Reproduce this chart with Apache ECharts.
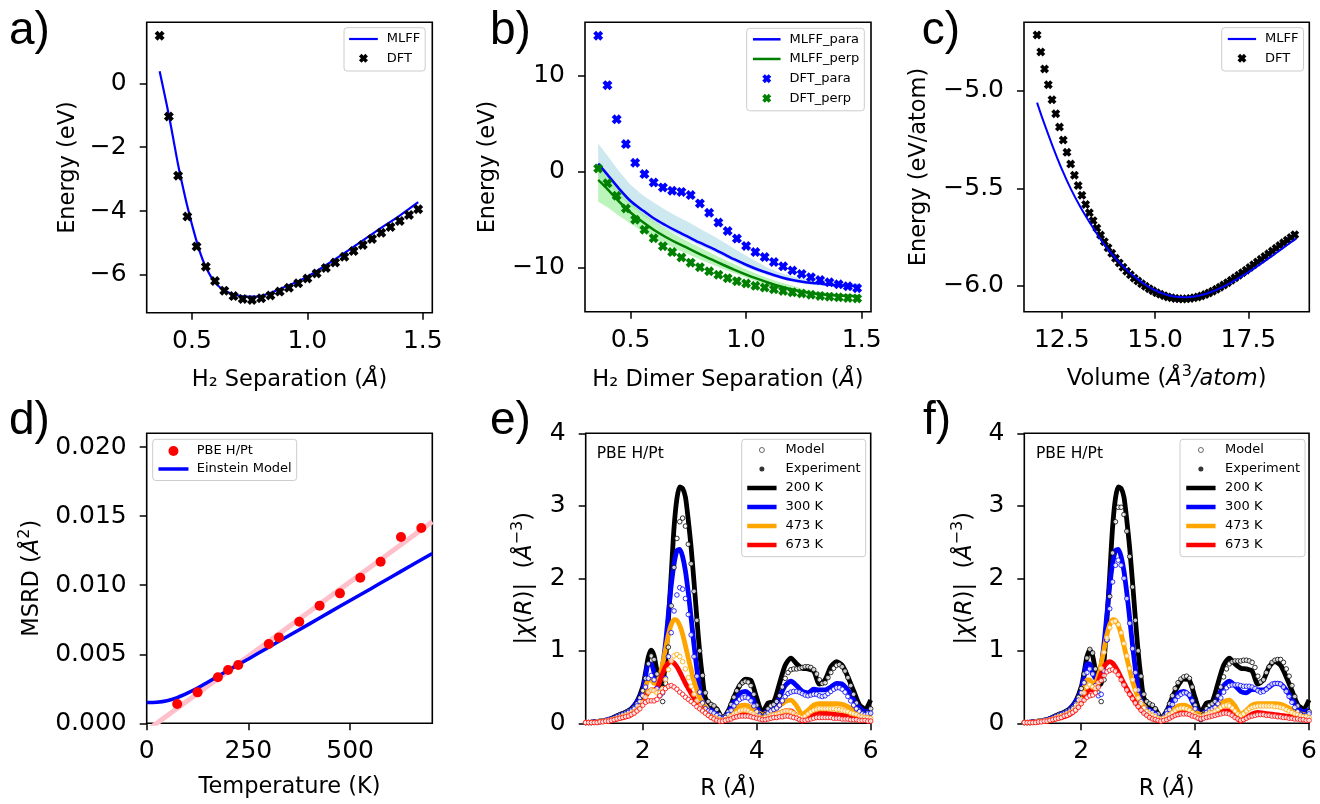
<!DOCTYPE html>
<html>
<head>
<meta charset="utf-8">
<script src="https://cdn.jsdelivr.net/npm/echarts@6/dist/echarts.min.js"></script>
<style>
  html, body { margin: 0; padding: 0; background: #fff; }
  #chart { width: 1320px; height: 804px; }
</style>
</head>
<body>
<div id="chart"></div>
<script>
// ---------- (a) H2 binding curve ----------
const sepR = [0.36,0.40,0.44,0.48,0.52,0.56,0.60,0.64,0.68,0.72,0.76,0.80,0.84,0.88,0.92,0.96,1.00,1.04,1.08,1.12,1.16,1.20,1.24,1.28,1.32,1.36,1.40,1.44,1.48];
const aDft = [1.49,-1.04,-2.89,-4.17,-5.11,-5.74,-6.19,-6.49,-6.66,-6.75,-6.78,-6.73,-6.64,-6.52,-6.40,-6.26,-6.11,-5.95,-5.78,-5.61,-5.43,-5.25,-5.06,-4.87,-4.68,-4.50,-4.31,-4.12,-3.94];
const aMlR = [0.36,0.38,0.40,0.42,0.44,0.46,0.48,0.50,0.53,0.56,0.60,0.64,0.68,0.72,0.77,0.82,0.87,0.93,1.00,1.10,1.20,1.30,1.40,1.48];
const aMl  = [0.38,-0.3,-1.0,-1.77,-2.55,-3.22,-3.85,-4.42,-5.18,-5.75,-6.24,-6.48,-6.60,-6.67,-6.68,-6.61,-6.47,-6.29,-6.05,-5.6,-5.12,-4.62,-4.14,-3.72];

// ---------- (b) H2 dimer, parallel / perpendicular ----------
const bDftPara = [14.2,9.04,5.48,2.89,0.94,-0.24,-1.11,-1.63,-1.98,-2.1,-2.43,-3.30,-4.28,-5.3,-6.18,-6.97,-7.74,-8.38,-8.9,-9.42,-9.87,-10.3,-10.66,-11.0,-11.3,-11.53,-11.74,-11.95,-12.14];
const bDftPerp = [0.35,-1.2,-2.5,-3.83,-5.0,-6.05,-6.93,-7.76,-8.38,-8.94,-9.48,-9.95,-10.38,-10.75,-11.1,-11.41,-11.65,-11.9,-12.08,-12.26,-12.43,-12.58,-12.7,-12.83,-12.95,-13.03,-13.1,-13.16,-13.22];
const bMlR = [0.36,0.40,0.45,0.50,0.55,0.60,0.65,0.70,0.75,0.80,0.85,0.90,0.95,1.00,1.05,1.10,1.15,1.20,1.25,1.30,1.35,1.40,1.45,1.49];
const bMlPara = [0.85,-0.3,-1.75,-3.05,-3.98,-4.85,-5.55,-6.2,-6.8,-7.4,-7.95,-8.55,-9.15,-9.7,-10.2,-10.62,-11.0,-11.3,-11.5,-11.63,-11.75,-11.84,-11.9,-11.93];
const bMlPerp = [-0.85,-1.8,-3.1,-4.25,-5.2,-6.05,-6.78,-7.42,-8.0,-8.6,-9.15,-9.7,-10.23,-10.73,-11.18,-11.6,-11.97,-12.28,-12.55,-12.74,-12.85,-12.92,-12.96,-12.98];
const bParaHi = [2.96,1.7,0.05,-1.35,-2.4,-3.2,-3.95,-4.65,-5.25,-5.95,-6.6,-7.3,-8.05,-8.75,-9.45,-10.1,-10.55,-10.9,-11.15,-11.32,-11.45,-11.55,-11.6,-11.63];
const bParaLo = [-0.6,-1.3,-2.5,-3.6,-4.5,-5.3,-5.95,-6.55,-7.12,-7.7,-8.25,-8.85,-9.45,-10.0,-10.45,-10.85,-11.2,-11.5,-11.7,-11.83,-11.95,-12.03,-12.08,-12.1];
const bPerpHi = [0.7,-0.5,-2.0,-3.2,-4.25,-5.15,-5.95,-6.65,-7.3,-7.9,-8.5,-9.1,-9.65,-10.2,-10.7,-11.15,-11.55,-11.9,-12.25,-12.5,-12.65,-12.75,-12.8,-12.83];
const bPerpLo = [-3.13,-3.7,-4.6,-5.4,-6.2,-6.9,-7.5,-8.1,-8.6,-9.15,-9.65,-10.15,-10.6,-11.05,-11.5,-11.9,-12.25,-12.55,-12.8,-12.95,-13.05,-13.1,-13.12,-13.14];

// ---------- (c) Pt equation of state ----------
const cDftV = [11.84,11.94,12.04,12.14,12.24,12.34,12.44,12.54,12.64,12.74,12.84,12.94,13.04,13.14,13.24,13.34,13.44,13.54,13.64,13.74,13.84,13.94,14.04,14.14,14.24,14.34,14.44,14.54,14.64,14.74,14.84,14.94,15.04,15.14,15.24,15.34,15.44,15.54,15.64,15.74,15.84,15.94,16.04,16.14,16.24,16.34,16.44,16.54,16.64,16.74,16.84,16.94,17.04,17.14,17.24,17.34,17.44,17.54,17.64,17.74,17.84,17.94,18.04,18.14,18.24,18.34,18.44,18.54,18.64,18.74];
const cDftE = [-4.713,-4.80,-4.887,-4.968,-5.045,-5.117,-5.185,-5.252,-5.315,-5.375,-5.432,-5.485,-5.535,-5.582,-5.625,-5.665,-5.703,-5.739,-5.773,-5.804,-5.832,-5.858,-5.882,-5.904,-5.925,-5.943,-5.960,-5.975,-5.989,-6.002,-6.014,-6.025,-6.035,-6.043,-6.050,-6.056,-6.061,-6.064,-6.066,-6.067,-6.066,-6.064,-6.061,-6.057,-6.051,-6.044,-6.036,-6.027,-6.017,-6.006,-5.995,-5.983,-5.971,-5.958,-5.945,-5.932,-5.919,-5.905,-5.891,-5.877,-5.863,-5.849,-5.835,-5.821,-5.807,-5.793,-5.779,-5.765,-5.751,-5.737];
const cMlV = [11.84,12.0,12.25,12.5,12.75,13.0,13.25,13.5,13.75,14.0,14.25,14.5,14.75,15.0,15.25,15.5,15.75,16.0,16.25,16.5,16.75,17.0,17.25,17.5,17.75,18.0,18.25,18.5,18.78];
const cMlE = [-5.06,-5.15,-5.28,-5.40,-5.505,-5.595,-5.675,-5.75,-5.815,-5.87,-5.92,-5.96,-5.995,-6.022,-6.042,-6.054,-6.058,-6.055,-6.046,-6.031,-6.011,-5.987,-5.959,-5.929,-5.897,-5.864,-5.83,-5.795,-5.757];

// ---------- (d) MSRD vs temperature ----------
const dT = [75,125,175,200,225,300,325,375,425,475,525,575,625,675];
const dMsrd = [0.0014,0.00224,0.00333,0.00386,0.00422,0.00574,0.00622,0.00736,0.00852,0.00941,0.01054,0.0117,0.01349,0.01414];
const dFitT = [0, 702];
const dFitY = [-0.00053, 0.01459];
const dEinT = [0,25,50,75,100,125,150,175,200,223,250,300,350,400,450,500,550,600,650,702];
const dEinY = [0.0015,0.00152,0.00163,0.00186,0.00218,0.00255,0.00298,0.00341,0.00383,0.00422,0.00466,0.00551,0.00636,0.0072,0.00805,0.00889,0.00973,0.01058,0.01142,0.0123];

// ---------- (e, f) |chi(R)| ----------
const expR = [1.0,1.2,1.4,1.6,1.7,1.8,1.9,2.0,2.05,2.1,2.15,2.2,2.25,2.3,2.35,2.4,2.45,2.5,2.55,2.6,2.65,2.7,2.75,2.8,2.85,2.9,2.95,3.0,3.05,3.1,3.2,3.3,3.4,3.5,3.6,3.7,3.8,3.9,4.0,4.1,4.2,4.3,4.4,4.5,4.6,4.7,4.8,4.9,5.0,5.1,5.2,5.3,5.4,5.5,5.6,5.7,5.8,5.9,6.0];
const exp200 = [.01,.02,.05,.12,.15,.2,.3,.5, .7,.92,1.01,.93,.72,.52,.55,.85,1.42,2.05, 2.7,3.1,3.26,3.24,3.12,2.8,2.42,1.95,1.45,.98, .62,.35,.25,.2,.07,.17,.36,.52,.61,.59, .35,.15,.28,.3,.55,.8,.9,.82,.76,.75, .72,.54,.6,.78,.85,.8,.64,.45,.26,.2,.32];
const exp300 = [.01,.02,.05,.12,.15,.2,.3,.45, .65,.82,.82,.7,.62,.64,.8,1.1,1.5,1.9, 2.2,2.38,2.4,2.3,2.1,1.8,1.45,1.08,.75,.47, .3,.22,.18,.14,.07,.15,.3,.41,.44,.38, .22,.12,.18,.22,.36,.52,.58,.52,.44,.42, .47,.46,.46,.5,.55,.54,.46,.33,.22,.16,.18];
const exp473 = [.01,.02,.04,.09,.12,.16,.24,.38, .5,.6,.6,.55,.56,.66,.82,1.02,1.22,1.36, 1.43,1.42,1.35,1.23,1.07,.9,.74,.58,.46,.36, .29,.23,.14,.09,.06,.1,.18,.24,.25,.22, .16,.12,.15,.18,.24,.3,.32,.24,.12,.18, .25,.27,.27,.27,.27,.26,.23,.19,.15,.12,.11];
const exp673 = [.01,.02,.03,.07,.09,.12,.19,.29, .37,.43,.46,.46,.49,.58,.69,.78,.83,.85, .83,.78,.71,.63,.55,.48,.41,.35,.29,.24, .19,.15,.09,.05,.04,.06,.1,.14,.15,.13, .1,.08,.1,.12,.14,.17,.17,.1,.03,.08, .13,.15,.14,.13,.12,.11,.1,.09,.08,.06,.05];

const modelR = [1.00,1.05,1.10,1.15,1.20,1.25,1.30,1.35,1.40,1.45,1.50,1.55,1.60,1.65,1.70,1.75,1.80,1.85,1.90,1.95,
  2.00,2.05,2.10,2.15,2.20,2.25,2.30,2.35,2.40,2.45,2.50,2.55,2.60,2.65,2.70,2.75,2.80,2.85,2.90,2.95,
  3.00,3.05,3.10,3.15,3.20,3.25,3.30,3.35,3.40,3.45,3.50,3.55,3.60,3.65,3.70,3.75,3.80,3.85,3.90,3.95,
  4.00,4.05,4.10,4.15,4.20,4.25,4.30,4.35,4.40,4.45,4.50,4.55,4.60,4.65,4.70,4.75,4.80,4.85,4.90,4.95,
  5.00,5.05,5.10,5.15,5.20,5.25,5.30,5.35,5.40,5.45,5.50,5.55,5.60,5.65,5.70,5.75,5.80,5.85,5.90,5.95,6.00];

// model curves shown in (e)
const eM200 = [.01,.01,.01,.02,.02,.03,.03,.04,.05,.06,.08,.1,.12,.13,.15,.17,.19,.22,.27,.35,
  .45,.62,.82,.93,.88,.68,.4,.3,.55,1.05,1.62,2.15,2.55,2.78,2.83,2.72,2.47,2.2,1.82,1.42,
  1.0,.66,.42,.3,.26,.24,.19,.12,.08,.1,.16,.26,.36,.45,.52,.56,.58,.57,.52,.4,
  .25,.12,.06,.12,.2,.24,.26,.3,.38,.5,.62,.7,.74,.75,.75,.76,.77,.78,.78,.77,
  .74,.68,.6,.55,.56,.63,.7,.76,.8,.81,.78,.72,.63,.52,.4,.28,.18,.13,.12,.15,.2];
const eM300 = [.01,.01,.01,.02,.02,.02,.03,.04,.05,.06,.07,.09,.1,.12,.13,.15,.17,.2,.24,.3,
  .38,.5,.62,.66,.6,.48,.38,.42,.62,.92,1.25,1.55,1.77,1.87,1.85,1.72,1.5,1.22,.92,.65,
  .43,.28,.2,.17,.16,.14,.11,.08,.06,.08,.12,.18,.24,.29,.33,.35,.36,.35,.31,.24,
  .16,.1,.07,.1,.14,.17,.19,.21,.25,.31,.37,.41,.43,.44,.44,.43,.41,.39,.38,.39,
  .4,.4,.38,.37,.38,.41,.44,.47,.49,.49,.47,.43,.37,.31,.25,.2,.16,.13,.12,.13,.14];
const eM473 = [.01,.01,.01,.01,.02,.02,.03,.03,.04,.05,.06,.07,.08,.1,.11,.12,.14,.16,.19,.23,
  .29,.36,.43,.46,.45,.42,.42,.48,.6,.74,.86,.93,.95,.92,.85,.75,.63,.51,.4,.31,
  .24,.18,.14,.11,.09,.08,.06,.05,.04,.05,.07,.1,.13,.15,.17,.18,.18,.17,.15,.13,
  .1,.08,.07,.08,.09,.11,.12,.13,.14,.16,.17,.17,.16,.14,.11,.09,.08,.1,.13,.16,
  .18,.19,.2,.2,.2,.2,.2,.2,.19,.19,.18,.17,.16,.14,.13,.12,.1,.09,.08,.08,.07];
const eM673 = [.01,.01,.01,.01,.01,.02,.02,.03,.03,.04,.05,.06,.07,.08,.09,.1,.12,.14,.17,.2,
  .25,.29,.31,.31,.31,.33,.38,.43,.48,.51,.52,.5,.47,.43,.4,.36,.33,.3,.27,.23,
  .2,.17,.14,.11,.08,.06,.04,.03,.03,.04,.05,.06,.08,.09,.1,.1,.1,.1,.09,.08,
  .07,.06,.05,.05,.06,.07,.08,.08,.09,.09,.1,.1,.09,.08,.07,.05,.04,.04,.05,.06,
  .07,.08,.08,.08,.08,.08,.08,.07,.07,.07,.06,.06,.06,.05,.05,.05,.04,.04,.04,.03,.03];

// model curves shown in (f)
const fM200 = [.01,.01,.01,.02,.02,.03,.03,.04,.05,.06,.08,.1,.12,.13,.15,.17,.19,.22,.27,.36,
  .48,.68,.9,1.02,.97,.75,.42,.3,.6,1.15,1.75,2.35,2.78,2.98,2.98,2.88,2.65,2.3,1.88,1.42,
  1.0,.65,.4,.3,.27,.25,.2,.13,.08,.1,.17,.27,.38,.48,.56,.61,.64,.65,.62,.5,
  .25,.08,.05,.12,.2,.25,.27,.3,.38,.5,.64,.75,.82,.85,.86,.86,.86,.87,.87,.86,
  .84,.77,.65,.57,.6,.7,.78,.84,.87,.88,.88,.84,.75,.65,.52,.37,.24,.13,.08,.1,.16];
const fM300 = [.01,.01,.01,.02,.02,.02,.03,.04,.05,.06,.07,.09,.1,.12,.13,.15,.17,.2,.25,.32,
  .42,.56,.7,.75,.68,.52,.38,.4,.72,1.15,1.58,1.95,2.18,2.25,2.18,2.0,1.72,1.38,1.03,.7,
  .46,.3,.21,.18,.17,.15,.12,.08,.06,.08,.13,.19,.26,.32,.37,.4,.42,.42,.39,.31,
  .2,.1,.06,.1,.15,.18,.2,.22,.27,.35,.43,.49,.52,.53,.53,.53,.52,.51,.51,.51,
  .5,.48,.45,.43,.44,.47,.51,.54,.55,.55,.54,.5,.44,.37,.29,.22,.16,.12,.1,.11,.13];
const fM473 = [.01,.01,.01,.01,.02,.02,.03,.03,.04,.05,.06,.07,.09,.1,.11,.13,.15,.17,.21,.26,
  .33,.42,.5,.53,.5,.48,.56,.76,.98,1.18,1.32,1.4,1.41,1.36,1.25,1.1,.93,.76,.6,.46,
  .35,.27,.21,.16,.13,.11,.09,.07,.06,.07,.09,.12,.15,.18,.2,.21,.21,.2,.18,.15,
  .12,.1,.09,.1,.12,.14,.15,.17,.19,.22,.24,.25,.24,.21,.17,.13,.11,.13,.17,.2,
  .22,.23,.24,.24,.24,.24,.24,.24,.23,.23,.22,.21,.19,.17,.15,.13,.12,.1,.09,.09,.08];
const fM673 = [.01,.01,.01,.01,.01,.02,.02,.03,.03,.04,.05,.06,.07,.08,.1,.11,.13,.15,.18,.22,
  .27,.32,.36,.38,.39,.42,.5,.59,.66,.71,.73,.74,.72,.67,.6,.53,.46,.4,.34,.28,
  .23,.18,.14,.11,.08,.06,.05,.04,.03,.04,.05,.07,.09,.11,.12,.13,.13,.13,.12,.1,
  .09,.07,.06,.07,.08,.09,.1,.11,.12,.13,.14,.14,.13,.11,.08,.06,.04,.05,.07,.09,
  .1,.11,.12,.12,.12,.11,.11,.1,.1,.09,.09,.08,.08,.07,.07,.06,.06,.05,.05,.04,.04];

const tempNames = ['200 K', '300 K', '473 K', '673 K'];
const tempColors = ['#000000', '#0000ff', '#ffa500', '#ff0000'];

// ---------- tick positions ----------
const sepTicks = [0.5, 1.0, 1.5];
const aYTicks = [-6, -4, -2, 0];
const bYTicks = [-10, 0, 10];
const cXTicks = [12.5, 15.0, 17.5];
const cYTicks = [-6.0, -5.5, -5.0];
const dXTicks = [0, 250, 500];
const dYTicks = [0, 0.005, 0.010, 0.015, 0.020];
const rTicks = [2, 4, 6];
const chiTicks = [0, 1, 2, 3, 4];

// ---------- helpers ----------
const FONT = '"DejaVu Sans", sans-serif';
const INK = '#000';
const XMARK = 'path://M71,0L100,29L78,50L100,71L71,100L50,78L29,100L0,71L22,50L0,29L29,0L50,22Z';
const pairs = (xs, ys) => xs.map((x, i) => [x, ys[i]]);
const num = d => v => (v < 0 ? '\u2212' : '') + Math.abs(v).toFixed(d);

function axis(kind, gi, min, max, ticks, dec, name, gap, tall) {
  return {
    type: 'value', gridIndex: gi, min: min, max: max,
    name: name, nameLocation: 'middle', nameGap: gap,
    nameTextStyle: {
      fontFamily: FONT, fontSize: 22.5, color: INK, lineHeight: tall ? 30 : undefined,
      rich: {
        i: { fontFamily: FONT, fontSize: 22.5, fontStyle: 'italic', color: INK, lineHeight: tall ? 30 : undefined },
        s: { fontFamily: FONT, fontSize: 16, color: INK, verticalAlign: 'top', lineHeight: 18 }
      }
    },
    axisLine: { show: false, onZero: false },
    splitLine: { show: false },
    axisTick: { show: true, inside: false, length: 7, customValues: ticks,
      lineStyle: { color: INK, width: 1.5 } },
    axisLabel: { customValues: ticks, formatter: num(dec), fontFamily: FONT,
      fontSize: 25, color: INK, margin: kind === 'x' ? 16 : 20 }
  };
}

function grid(left, top, width, height) {
  return { left: left, top: top, width: width, height: height, show: true,
    borderColor: INK, borderWidth: 1.6, backgroundColor: 'transparent', containLabel: false };
}

function line(ax, name, xs, ys, color, width, z) {
  return { type: 'line', name: name, xAxisIndex: ax, yAxisIndex: ax, data: pairs(xs, ys),
    symbol: 'none', smooth: 0.3, clip: true, z: z || 2, silent: true,
    lineStyle: { color: color, width: width }, itemStyle: { color: color } };
}

function marks(ax, name, xs, ys, color, symbol, size, z) {
  return { type: 'scatter', name: name, xAxisIndex: ax, yAxisIndex: ax, data: pairs(xs, ys),
    symbol: symbol, symbolSize: size, clip: true, z: z || 3, silent: true,
    itemStyle: { color: color, opacity: 1 } };
}

function band(ax, xs, lo, hi, fill) {
  return { type: 'custom', xAxisIndex: ax, yAxisIndex: ax, data: [0], silent: true, z: 1, clip: true,
    renderItem: function (params, api) {
      const pts = xs.map((x, i) => api.coord([x, hi[i]]));
      for (let i = xs.length - 1; i >= 0; i--) pts.push(api.coord([xs[i], lo[i]]));
      return { type: 'polygon', shape: { points: pts }, style: { fill: fill, stroke: null } };
    } };
}

// legend entry for a line series: keep the stroke at the plotted width, hide the centre marker
const lineKey = (name, color, width) => ({ name: name, itemStyle: { opacity: 0 },
  lineStyle: { color: color, width: width, opacity: 1 } });

function legendBox(names, left, top, pad, iw, ih, gap, textPad) {
  return { data: names, orient: 'vertical', left: left, top: top, padding: pad,
    itemWidth: iw, itemHeight: ih, itemGap: gap, selectedMode: false,
    backgroundColor: 'rgba(255,255,255,0.8)', borderColor: '#cccccc', borderWidth: 1, borderRadius: 3,
    textStyle: { fontFamily: FONT, fontSize: 13, color: INK, lineHeight: 13, padding: [0, 0, 0, textPad] } };
}

function label(text, x, y) {
  return { type: 'text', x: x, y: y, silent: true,
    style: { text: text, font: '46px "Liberation Sans", Arial, sans-serif', fill: INK, verticalAlign: 'middle' } };
}

// ---------- series ----------
const series = [];
// (a)
series.push(line(0, 'MLFF', aMlR, aMl, '#0000ff', 2.2, 2));
series.push(marks(0, 'DFT', sepR, aDft, INK, XMARK, 10, 3));
// (b)
series.push(band(1, bMlR, bParaLo, bParaHi, 'rgba(173,216,230,0.6)'));
series.push(band(1, bMlR, bPerpLo, bPerpHi, 'rgba(144,238,144,0.6)'));
series.push(line(1, 'MLFF_para', bMlR, bMlPara, '#0000ff', 2.5, 2));
series.push(line(1, 'MLFF_perp', bMlR, bMlPerp, '#008000', 2.5, 2));
series.push(marks(1, 'DFT_para', sepR, bDftPara, '#0000ff', XMARK, 10, 3));
series.push(marks(1, 'DFT_perp', sepR, bDftPerp, '#008000', XMARK, 10, 3));
// (c)
series.push(marks(2, 'DFT', cDftV, cDftE, INK, XMARK, 9, 3));
series.push(line(2, 'MLFF', cMlV, cMlE, '#0000ff', 2, 4));
// (d)
const fit = line(3, 'Linear fit', dFitT, dFitY, '#ffc0cb', 5, 2);
fit.smooth = false;
series.push(fit);
series.push(line(3, 'Einstein Model', dEinT, dEinY, '#0000ff', 3.5, 3));
series.push(marks(3, 'PBE H/Pt', dT, dMsrd, '#ff0000', 'circle', 10, 4));
// (e) and (f): measured spectra as thick lines, model spectra as open circles
const expSets = [exp200, exp300, exp473, exp673];
[[4, [eM200, eM300, eM473, eM673]], [5, [fM200, fM300, fM473, fM673]]].forEach(function (panel) {
  const ax = panel[0], models = panel[1];
  expSets.forEach(function (ys, k) {
    const s = line(ax, tempNames[k], expR, ys, tempColors[k], 4.8, 2);
    s.smooth = 0.25;
    series.push(s);
  });
  models.forEach(function (ys, k) {
    series.push({ type: 'scatter', name: 'Model', xAxisIndex: ax, yAxisIndex: ax,
      data: pairs(modelR, ys), symbol: 'circle', symbolSize: 4.6, clip: true, z: 3, silent: true,
      itemStyle: { color: '#ffffff', borderColor: tempColors[k], borderWidth: 1 } });
  });
});
series.push({ type: 'scatter', name: 'Experiment', xAxisIndex: 4, yAxisIndex: 4, data: [],
  symbol: 'circle', symbolSize: 5, itemStyle: { color: INK } });

const eLegendNames = [
  { name: 'Model', icon: 'circle', itemStyle: { color: '#ffffff', borderColor: '#444444', borderWidth: 1 } }
].concat([{ name: 'Experiment', icon: 'circle' }],
  tempNames.map((n, k) => lineKey(n, tempColors[k], 4.5)));

const chiName = '|{i|\u03c7}({i|R})|  ({i|\u00c5}{s|\u22123})';

const option = {
  animation: false,
  backgroundColor: '#ffffff',
  textStyle: { fontFamily: FONT },
  grid: [
    grid(146.7, 22.3, 285.6, 290.4),
    grid(585, 22.3, 286, 289.4),
    grid(1024, 22.3, 285.3, 289.4),
    grid(146.7, 433.3, 285.6, 290),
    grid(585.7, 433.3, 285, 290),
    grid(1024.3, 433.3, 285, 290)
  ],
  xAxis: [
    axis('x', 0, 0.304, 1.541, sepTicks, 1, 'H\u2082 Separation ({i|\u00c5})', 56),
    axis('x', 1, 0.303, 1.540, sepTicks, 1, 'H\u2082 Dimer Separation ({i|\u00c5})', 57),
    axis('x', 2, 11.49, 19.13, cXTicks, 1, 'Volume ({i|\u00c5}{s|3}{i|/atom})', 52, true),
    axis('x', 3, 0, 702, dXTicks, 0, 'Temperature (K)', 52),
    axis('x', 4, 1, 6, rTicks, 0, 'R ({i|\u00c5})', 54),
    axis('x', 5, 1, 6, rTicks, 0, 'R ({i|\u00c5})', 54)
  ],
  yAxis: [
    axis('y', 0, -7.18, 1.909, aYTicks, 0, 'Energy (eV)', 67),
    axis('y', 1, -14.6, 15.6, bYTicks, 0, 'Energy (eV)', 85),
    axis('y', 2, -6.132, -4.648, cYTicks, 1, 'Energy (eV/atom)', 93),
    axis('y', 3, 0, 0.021, dYTicks, 3, 'MSRD ({i|\u00c5}{s|2})', 100, true),
    axis('y', 4, 0, 4, chiTicks, 0, chiName, 46, true),
    axis('y', 5, 0, 4, chiTicks, 0, chiName, 44, true)
  ],
  legend: [
    legendBox([lineKey('MLFF', '#0000ff', 2.2), { name: 'DFT', icon: XMARK }], 344, 27.7, [4.8, 5, 6.2, 4], 28.7, 9, 6.3, 4),
    legendBox([lineKey('MLFF_para', '#0000ff', 2.5), lineKey('MLFF_perp', '#008000', 2.5),
      { name: 'DFT_para', icon: XMARK }, { name: 'DFT_perp', icon: XMARK }],
      746.7, 28.3, [4.5, 5, 6, 5], 27.6, 9, 6.67, 4),
    legendBox([lineKey('MLFF', '#0000ff', 2.2), { name: 'DFT', icon: XMARK }], 1221.7, 27.7, [4.8, 5, 6.2, 5], 28.3, 9, 6.3, 4),
    legendBox([{ name: 'PBE H/Pt', icon: 'circle' }, lineKey('Einstein Model', '#0000ff', 3.5)],
      152.7, 439.3, [5.2, 5, 5, 4], 30, 10, 5, 3.3),
    legendBox(eLegendNames, 741.7, 439.3, [4.2, 5, 5.2, 3.3], 29.3, 5, 6, 4),
    legendBox(eLegendNames, 1180, 439.3, [4.2, 5, 5.2, 4], 29.3, 5, 6, 4.4)
  ],
  graphic: [
    label('a)', 9, 31),
    label('b)', 490, 31),
    label('c)', 921.7, 31),
    label('d)', 9, 421),
    label('e)', 490, 421),
    label('f)', 923, 421),
    { type: 'text', x: 596.7, y: 454, silent: true,
      style: { text: 'PBE H/Pt', font: '15.5px "DejaVu Sans"', fill: INK, verticalAlign: 'middle' } },
    { type: 'text', x: 1036, y: 454, silent: true,
      style: { text: 'PBE H/Pt', font: '15.5px "DejaVu Sans"', fill: INK, verticalAlign: 'middle' } }
  ],
  series: series
};

const chart = echarts.init(document.getElementById('chart'), null, { renderer: 'canvas' });
chart.setOption(option);
</script>
</body>
</html>
